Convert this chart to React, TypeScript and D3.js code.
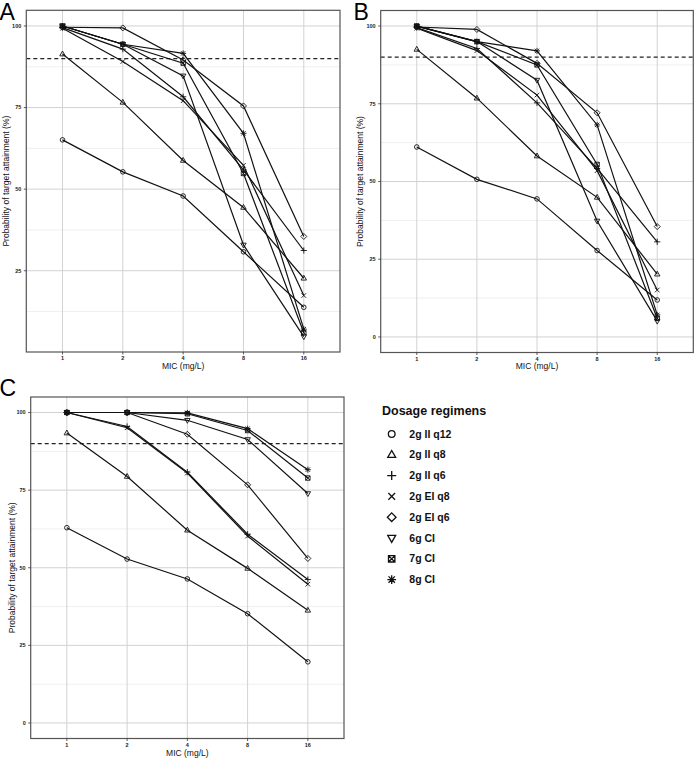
import React from 'react';
import * as d3 from 'd3';

const MIC = ['1', '2', '4', '8', '16'];
const REGIMENS = ['2g II q12', '2g II q8', '2g II q6', '2g EI q8', '2g EI q6', '6g CI', '7g CI', '8g CI'];
const SHAPES = ['circle', 'triangle', 'plus', 'times', 'diamond', 'triangleDown', 'squareCross', 'asterisk'];
const Y_TICKS = [0, 25, 50, 75, 100];
const Y_MINOR = [12.5, 37.5, 62.5, 87.5];
const TARGET = 90;

// rows follow REGIMENS order, columns follow MIC order
const PANEL_A = [
  [65.1, 55.3, 47.9, 30.8, 13.8],
  [91.4, 76.6, 58.8, 44.4, 22.7],
  [99.5, 92.9, 78.3, 55.9, 31.2],
  [99.3, 89.1, 77.1, 57.3, 17.4],
  [99.6, 99.4, 89.6, 75.5, 35.5],
  [100, 94.4, 84.7, 32.9, 4.8],
  [100, 94.4, 88.6, 54.8, 6.0],
  [100, 94.4, 91.6, 67.1, 7.1],
];
const PANEL_B = [
  [61.1, 50.7, 44.4, 27.8, 11.9],
  [92.5, 76.8, 58.2, 44.9, 20.2],
  [99.5, 92.8, 75.3, 54.2, 30.6],
  [99.3, 92.1, 77.8, 53.5, 15.1],
  [99.7, 98.9, 88.0, 72.1, 35.5],
  [100, 95.0, 82.6, 37.3, 5.1],
  [100, 95.0, 87.5, 55.5, 6.0],
  [100, 95.0, 92.0, 68.2, 7.1],
];
const PANEL_C = [
  [62.9, 52.8, 46.4, 35.2, 19.7],
  [93.4, 79.4, 62.1, 49.8, 36.3],
  [100, 95.5, 80.8, 60.8, 46.2],
  [100, 95.1, 80.5, 60.2, 44.7],
  [100, 100, 93.0, 76.7, 53.0],
  [100, 100, 97.5, 91.3, 73.9],
  [100, 100, 99.6, 94.2, 78.9],
  [100, 100, 99.9, 94.8, 81.6],
];

const FONT = '"Liberation Sans", Arial, Helvetica, sans-serif';

function shapePath(shape: string, k: number): string {
  const p = d3.path();
  const r = 2.3 * k;
  switch (shape) {
    case 'circle':
      p.moveTo(r, 0);
      p.arc(0, 0, r, 0, Math.PI * 2);
      p.closePath();
      break;
    case 'triangle': {
      const a = 2.6 * k;
      p.moveTo(0, -a * 1.15);
      p.lineTo(a * 1.05, a * 0.7);
      p.lineTo(-a * 1.05, a * 0.7);
      p.closePath();
      break;
    }
    case 'triangleDown': {
      const a = 2.6 * k;
      p.moveTo(0, a * 1.15);
      p.lineTo(a * 1.05, -a * 0.7);
      p.lineTo(-a * 1.05, -a * 0.7);
      p.closePath();
      break;
    }
    case 'plus': {
      const a = 3.1 * k;
      p.moveTo(-a, 0); p.lineTo(a, 0);
      p.moveTo(0, -a); p.lineTo(0, a);
      break;
    }
    case 'times': {
      const a = 2.3 * k;
      p.moveTo(-a, -a); p.lineTo(a, a);
      p.moveTo(-a, a); p.lineTo(a, -a);
      break;
    }
    case 'diamond': {
      const a = 3.0 * k;
      p.moveTo(0, -a); p.lineTo(a, 0); p.lineTo(0, a); p.lineTo(-a, 0);
      p.closePath();
      break;
    }
    case 'squareCross': {
      const a = 2.2 * k;
      p.rect(-a, -a, 2 * a, 2 * a);
      p.moveTo(-a, -a); p.lineTo(a, a);
      p.moveTo(-a, a); p.lineTo(a, -a);
      break;
    }
    case 'asterisk': {
      const a = 3.0 * k;
      const b = 2.2 * k;
      p.moveTo(-a, 0); p.lineTo(a, 0);
      p.moveTo(0, -a); p.lineTo(0, a);
      p.moveTo(-b, -b); p.lineTo(b, b);
      p.moveTo(-b, b); p.lineTo(b, -b);
      break;
    }
  }
  return p.toString();
}

type PanelProps = {
  data: number[][];
  label: string;
  left: number; right: number; top: number; bottom: number;
  yDomain: [number, number];
  labelX: number; labelY: number;
  yTitleX: number; xTickY: number; xTitleY: number;
};

function Panel(props: PanelProps) {
  const { data, label, left, right, top, bottom, yDomain, labelX, labelY, yTitleX, xTickY, xTitleY } = props;
  const x = d3.scalePoint<string>().domain(MIC).range([left, right]).padding(0.6);
  const y = d3.scaleLinear().domain(yDomain).range([bottom, top]);
  const inY = (v: number) => v >= yDomain[0] && v <= yDomain[1];
  const line = d3.line<number>().x((_, i) => x(MIC[i]) as number).y((v) => y(v));
  const midX = (left + right) / 2;
  const midY = (top + bottom) / 2;
  return (
    <g>
      <rect x={left} y={top} width={right - left} height={bottom - top} fill="#fff" />
      {Y_MINOR.filter(inY).map((t) => (
        <line key={'mn' + t} x1={left} x2={right} y1={y(t)} y2={y(t)} stroke="#ebebeb" strokeWidth={0.8} />
      ))}
      {Y_TICKS.filter(inY).map((t) => (
        <line key={'mj' + t} x1={left} x2={right} y1={y(t)} y2={y(t)} stroke="#d2d2d2" strokeWidth={1} />
      ))}
      {MIC.map((m) => (
        <line key={'vx' + m} x1={x(m)} x2={x(m)} y1={top} y2={bottom} stroke="#d2d2d2" strokeWidth={1} />
      ))}
      <line x1={left} x2={right} y1={y(TARGET)} y2={y(TARGET)} stroke="#222" strokeWidth={1.3} strokeDasharray="4,3" />
      {data.map((row, i) => (
        <path key={'ln' + i} d={line(row) || ''} fill="none" stroke="#111" strokeWidth={1.2} />
      ))}
      {data.map((row, i) =>
        row.map((v, j) => (
          <path
            key={'pt' + i + '-' + j}
            d={shapePath(SHAPES[i], 1)}
            transform={`translate(${x(MIC[j])},${y(v)})`}
            fill="none"
            stroke="#111"
            strokeWidth={0.9}
          />
        ))
      )}
      <rect x={left} y={top} width={right - left} height={bottom - top} fill="none" stroke="#555" strokeWidth={1.2} />
      {Y_TICKS.filter(inY).map((t) => (
        <g key={'yt' + t}>
          <line x1={left - 2.5} x2={left} y1={y(t)} y2={y(t)} stroke="#333" strokeWidth={0.8} />
          <text x={left - 5} y={y(t)} dy="0.35em" textAnchor="end" fontSize={5.5} fontWeight="bold" fill="#222" fontFamily={FONT}>
            {t}
          </text>
        </g>
      ))}
      {MIC.map((m) => (
        <g key={'xt' + m}>
          <line x1={x(m)} x2={x(m)} y1={bottom} y2={bottom + 2.5} stroke="#333" strokeWidth={0.8} />
          <text x={x(m)} y={xTickY} dy="0.35em" textAnchor="middle" fontSize={5.5} fontWeight="bold" fill="#222" fontFamily={FONT}>
            {m}
          </text>
        </g>
      ))}
      <text x={midX} y={xTitleY} dy="0.35em" textAnchor="middle" fontSize={8.5} fill="#111" fontFamily={FONT}>
        MIC (mg/L)
      </text>
      <text
        transform={`translate(${yTitleX},${midY}) rotate(-90)`}
        dy="0.35em"
        textAnchor="middle"
        fontSize={8.5}
        fill="#111"
        fontFamily={FONT}
      >
        Probability of target attainment (%)
      </text>
      <text x={labelX} y={labelY} fontSize={23} fill="#000" fontFamily={FONT}>
        {label}
      </text>
    </g>
  );
}

function Legend() {
  const x0 = 382;
  const y0 = 434;
  const step = 20.8;
  return (
    <g>
      <text x={x0} y={410.7} dy="0.35em" fontSize={12.5} fontWeight="bold" fill="#111" fontFamily={FONT}>
        Dosage regimens
      </text>
      {REGIMENS.map((name, i) => (
        <g key={name} transform={`translate(0,${y0 + i * step})`}>
          <path
            d={shapePath(SHAPES[i], 1.45)}
            transform={`translate(${x0 + 9.7},0)`}
            fill="none"
            stroke="#111"
            strokeWidth={1.3}
          />
          <text x={409.3} y={0} dy="0.35em" fontSize={10.5} fontWeight="bold" fill="#111" fontFamily={FONT}>
            {name}
          </text>
        </g>
      ))}
    </g>
  );
}

export default function App() {
  return (
    <svg
      width={696}
      height={759}
      viewBox="0 0 696 759"
      style={{ position: 'absolute', left: 0, top: 0, background: '#fff' }}
    >
      <rect x={0} y={0} width={696} height={759} fill="#fff" />
      <Panel
        data={PANEL_A}
        label="A"
        left={26.3} right={340} top={10.3} bottom={352}
        yDomain={[0.1, 104.8]}
        labelX={-0.5} labelY={19.5}
        yTitleX={6.5} xTickY={358.5} xTitleY={366.5}
      />
      <Panel
        data={PANEL_B}
        label="B"
        left={380.7} right={693.3} top={10.5} bottom={352.5}
        yDomain={[-5, 105]}
        labelX={353.5} labelY={19.5}
        yTitleX={360} xTickY={358.8} xTitleY={366.5}
      />
      <Panel
        data={PANEL_C}
        label="C"
        left={30.7} right={344} top={397} bottom={738.5}
        yDomain={[-5, 105]}
        labelX={-0.5} labelY={395.5}
        yTitleX={11.7} xTickY={745} xTitleY={753.3}
      />
      <Legend />
    </svg>
  );
}
